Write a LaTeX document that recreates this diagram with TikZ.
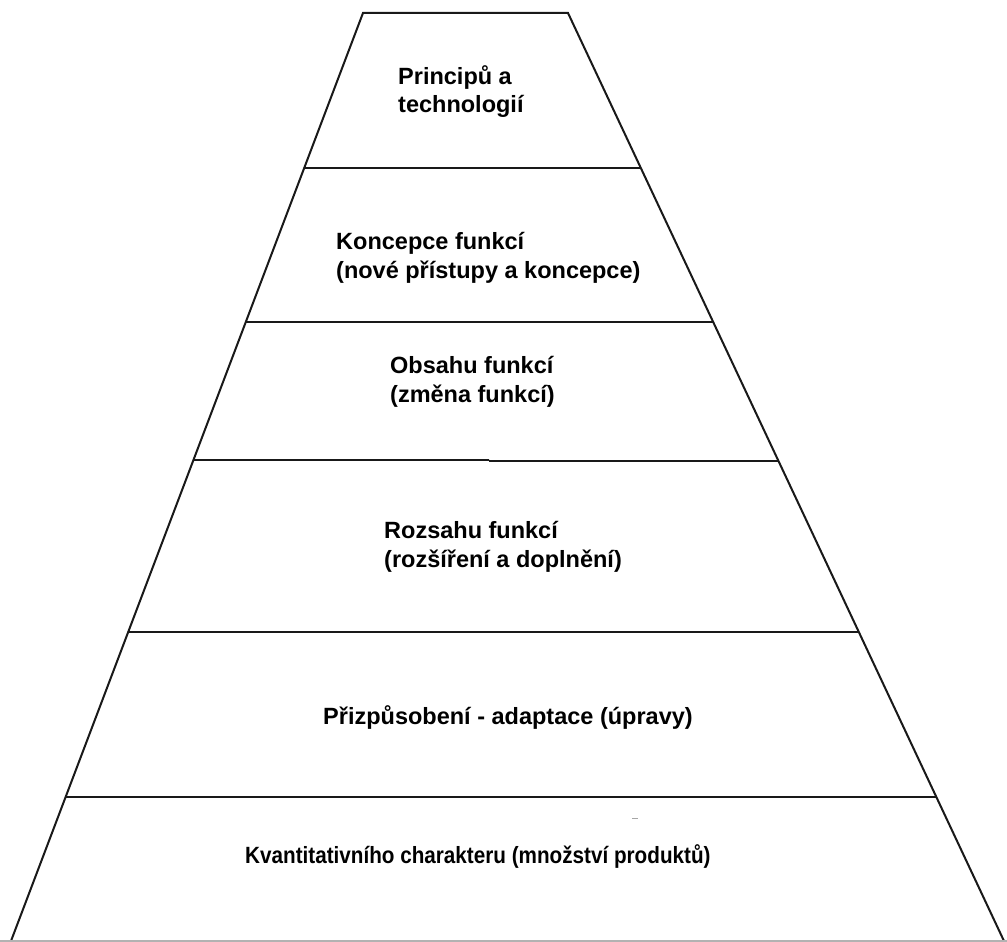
\documentclass[tikz,border=0pt]{standalone}
\usepackage{fontspec}
\setmainfont{Liberation Sans}
\newfontfamily\lblnarrow[FakeStretch=0.88]{Liberation Sans}
\usetikzlibrary{calc}
\begin{document}
\begin{tikzpicture}[x=1pt,y=-1pt,
  edge/.style={line width=2pt, draw=black!90, line join=miter},
  sep/.style={line width=1.9pt, draw=black!90},
  lbl/.style={font=\bfseries\fontsize{23.5}{28.5}\selectfont, align=left, anchor=base west, inner sep=0pt}]
\useasboundingbox (0,0) rectangle (1007,942);
\coordinate (tl) at (363,13);
\coordinate (tr) at (568,13);
\coordinate (bl) at (11,941);
\coordinate (br) at (1004,941);
% outline
\draw[edge] (bl) -- (tl) -- (tr) -- (br);
\draw[gray!60, line width=1.5pt] (0,941) -- (1007,941);
% separators
\coordinate (l1) at ($(tl)!0.1670!(bl)$); \coordinate (r1) at ($(tr)!0.1670!(br)$);
\coordinate (l2) at ($(tl)!0.3330!(bl)$); \coordinate (r2) at ($(tr)!0.3330!(br)$);
\coordinate (l3) at ($(tl)!0.4817!(bl)$); \coordinate (r3) at ($(tr)!0.4828!(br)$);
\coordinate (l4) at ($(tl)!0.6670!(bl)$); \coordinate (r4) at ($(tr)!0.6670!(br)$);
\coordinate (l5) at ($(tl)!0.8448!(bl)$); \coordinate (r5) at ($(tr)!0.8448!(br)$);
\coordinate (s3a) at (489,460);
\coordinate (s3b) at (489,461);
\draw[sep] (l1) -- (r1);
\draw[sep] (l2) -- (r2);
\draw[sep] (l3) -- (s3a);
\draw[sep] (s3b) -- (r3);
\draw[sep] (l4) -- (r4);
\draw[sep] (l5) -- (r5);
% tiny mark
\coordinate (m1) at (632,818);
\coordinate (m2) at (638,818);
\draw[gray!70, line width=1pt] (m1) -- (m2);
% labels (base anchor = baseline of last line)
\node[lbl] (t1) at (398,113) {Principů a\\technologií};
\node[lbl] (t2) at (336,278) {Koncepce funkcí\\(nové přístupy a koncepce)};
\node[lbl] (t3) at (390,402) {Obsahu funkcí\\(změna funkcí)};
\node[lbl] (t4) at (384,567) {Rozsahu funkcí\\(rozšíření a doplnění)};
\node[lbl] (t5) at (323,724) {Přizpůsobení - adaptace (úpravy)};
\node[lbl, font=\lblnarrow\bfseries\fontsize{23.5}{28.5}\selectfont] (t6) at (245,863) {Kvantitativního charakteru (množství produktů)};
\end{tikzpicture}
\end{document}
